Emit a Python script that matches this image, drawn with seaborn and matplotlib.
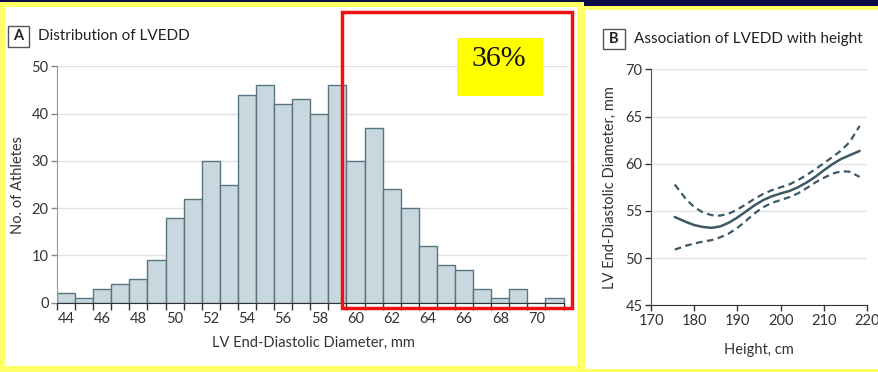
import matplotlib
matplotlib.use("Agg")
import matplotlib.pyplot as plt
import seaborn as sns
import pandas as pd
from matplotlib.patches import Rectangle

# ---------------- data ----------------
lvedd_mm = list(range(44, 72))
athletes = [2, 1, 3, 4, 5, 9, 18, 22, 30, 25, 44, 46, 42, 43, 40, 46,
            30, 37, 24, 20, 12, 8, 7, 3, 1, 3, 0, 1]
x_ticks_a = [44, 46, 48, 50, 52, 54, 56, 58, 60, 62, 64, 66, 68, 70]
y_ticks_a = [0, 10, 20, 30, 40, 50]

height_cm = [175.5, 178, 180, 182, 184, 186, 188, 190, 192, 194, 196, 198,
             200, 202, 204, 206, 208, 210, 212, 214, 216, 218.3]
fit_mm = [54.35, 53.85, 53.5, 53.3, 53.2, 53.35, 53.75, 54.3, 54.95, 55.6,
          56.15, 56.55, 56.85, 57.1, 57.5, 58.0, 58.6, 59.3, 59.95, 60.5,
          60.9, 61.35]
upper_mm = [57.8, 56.3, 55.4, 54.85, 54.55, 54.5, 54.7, 55.15, 55.7, 56.3,
            56.8, 57.2, 57.5, 57.8, 58.25, 58.8, 59.4, 60.05, 60.7, 61.4,
            62.3, 64.0]
lower_mm = [50.9, 51.3, 51.55, 51.75, 51.9, 52.2, 52.6, 53.2, 53.95, 54.75,
            55.4, 55.85, 56.15, 56.45, 56.85, 57.4, 58.0, 58.5, 58.95, 59.2,
            59.15, 58.6]
x_ticks_b = [170, 180, 190, 200, 210, 220]
y_ticks_b = [45, 50, 55, 60, 65, 70]

title_a = "Distribution of LVEDD"
title_b = "Association of LVEDD with height"
share_label = "36%"

# ---------------- style ----------------
sns.set_style("white")
plt.rcParams["font.family"] = ["Lato", "DejaVu Sans"]
TXT = "#333333"
BAR_FILL = "#c9d7df"
BAR_EDGE = "#587582"
LINE = "#3c5965"
GRID = "#e2e2e2"

W, H = 879, 372
fig = plt.figure(figsize=(W / 100, H / 100), dpi=100, facecolor="#0b0b45")


def fx(px):
    return px / W


def fy(py):
    return 1 - py / H


def frect(x0, y0, x1, y1, **kw):
    r = Rectangle((fx(x0), fy(y1)), fx(x1) - fx(x0), fy(y0) - fy(y1),
                  transform=fig.transFigure, **kw)
    fig.add_artist(r)
    return r


# panel backgrounds (yellow frames)
frect(0, 2, 584, 372, facecolor="#ffff66", edgecolor="none", zorder=0)
frect(5, 7, 577, 366, facecolor="white", edgecolor="none", zorder=0)
frect(584, 6, 879, 372, facecolor="#ffff66", edgecolor="none", zorder=0)
frect(585, 10, 879, 369, facecolor="white", edgecolor="none", zorder=0)

# ---------------- panel A ----------------
axA = fig.add_axes([fx(57), fy(302.7), fx(569) - fx(57), fy(66.3) - fy(302.7)])
axA.set_facecolor("none")
dfA = pd.DataFrame({"lvedd": lvedd_mm, "n": athletes})
sns.histplot(data=dfA, x="lvedd", weights="n", discrete=True, ax=axA,
             color=BAR_FILL, edgecolor=BAR_EDGE, linewidth=1.0, alpha=1.0,
             zorder=2)
axA.set_xlim(43.5, 71.8)
axA.set_ylim(0, 50)
axA.set_xticks(x_ticks_a)
axA.set_xticks([v - 0.5 for v in lvedd_mm] + [lvedd_mm[-1] + 0.5], minor=True)
axA.set_yticks(y_ticks_a)
axA.tick_params(axis="x", which="major", length=0, labelsize=10.5,
                labelcolor=TXT, pad=7)
axA.tick_params(axis="x", which="minor", length=5, width=1, color="#333333",
                direction="out", bottom=True)
axA.tick_params(axis="y", length=4, width=1, color="#888888", labelsize=10.5,
                labelcolor=TXT, left=True, pad=2)
axA.yaxis.grid(True, color=GRID, linewidth=1)
axA.set_axisbelow(True)
for s in ["top", "right"]:
    axA.spines[s].set_visible(False)
axA.spines["left"].set_color("#999999")
axA.spines["bottom"].set_color("#333333")
axA.spines["bottom"].set_bounds(43.5, 71.5)
axA.spines["bottom"].set_zorder(3)
axA.set_xlabel("LV End-Diastolic Diameter, mm", fontsize=10.5, color=TXT,
               labelpad=7)
axA.set_ylabel("No. of Athletes", fontsize=10.5, color=TXT, labelpad=5)

# panel A header
frect(8, 26, 29, 47, facecolor="white", edgecolor="#555555", linewidth=1,
      zorder=5)
fig.text(fx(18.5), fy(36.5), "A", ha="center", va="center", fontsize=10.5,
         fontweight="bold", color="#222222", zorder=6)
fig.text(fx(38), fy(36), title_a, ha="left", va="center", fontsize=11,
         color="#222222")

# red highlight box and share label
frect(342, 12, 572, 308, facecolor="none", edgecolor="#ee1111", linewidth=2.5,
      zorder=10)
frect(457, 38, 543, 96, facecolor="#ffff00", edgecolor="none", zorder=9)
fig.text(fx(499), fy(59), share_label, ha="center", va="center",
         fontsize=21.5, family=["Liberation Serif", "DejaVu Serif"],
         color="#111111", zorder=11)

# ---------------- panel B ----------------
axB = fig.add_axes([fx(651), fy(305.3), fx(867) - fx(651), fy(69.3) - fy(305.3)])
axB.set_facecolor("none")
dfB = pd.DataFrame({"height": height_cm, "fit": fit_mm,
                    "upper": upper_mm, "lower": lower_mm})
sns.lineplot(data=dfB, x="height", y="fit", ax=axB, color=LINE, linewidth=1.8)
sns.lineplot(data=dfB, x="height", y="upper", ax=axB, color=LINE,
             linewidth=1.6, dashes=False, linestyle=(0, (3, 2)))
sns.lineplot(data=dfB, x="height", y="lower", ax=axB, color=LINE,
             linewidth=1.6, dashes=False, linestyle=(0, (3, 2)))
axB.set_xlim(170, 220)
axB.set_ylim(45, 70)
axB.set_xticks(x_ticks_b)
axB.set_yticks(y_ticks_b)
axB.tick_params(axis="both", length=4, width=1, color="#333333",
                labelsize=10.5, labelcolor=TXT, bottom=True, left=True, pad=2)
axB.yaxis.grid(True, color=GRID, linewidth=1)
axB.set_axisbelow(True)
for s in ["top", "right"]:
    axB.spines[s].set_visible(False)
axB.spines["left"].set_color("#555555")
axB.spines["bottom"].set_color("#333333")
axB.set_xlabel("Height, cm", fontsize=10.5, color=TXT, labelpad=11)
axB.set_ylabel("LV End-Diastolic Diameter, mm", fontsize=10.5, color=TXT,
               labelpad=6)

frect(603, 29, 625, 49, facecolor="white", edgecolor="#555555", linewidth=1,
      zorder=5)
fig.text(fx(614), fy(39), "B", ha="center", va="center", fontsize=10.5,
         fontweight="bold", color="#222222", zorder=6)
fig.text(fx(634), fy(39), title_b, ha="left", va="center", fontsize=11,
         color="#222222")

fig.savefig("out.png", dpi=100, facecolor=fig.get_facecolor())
